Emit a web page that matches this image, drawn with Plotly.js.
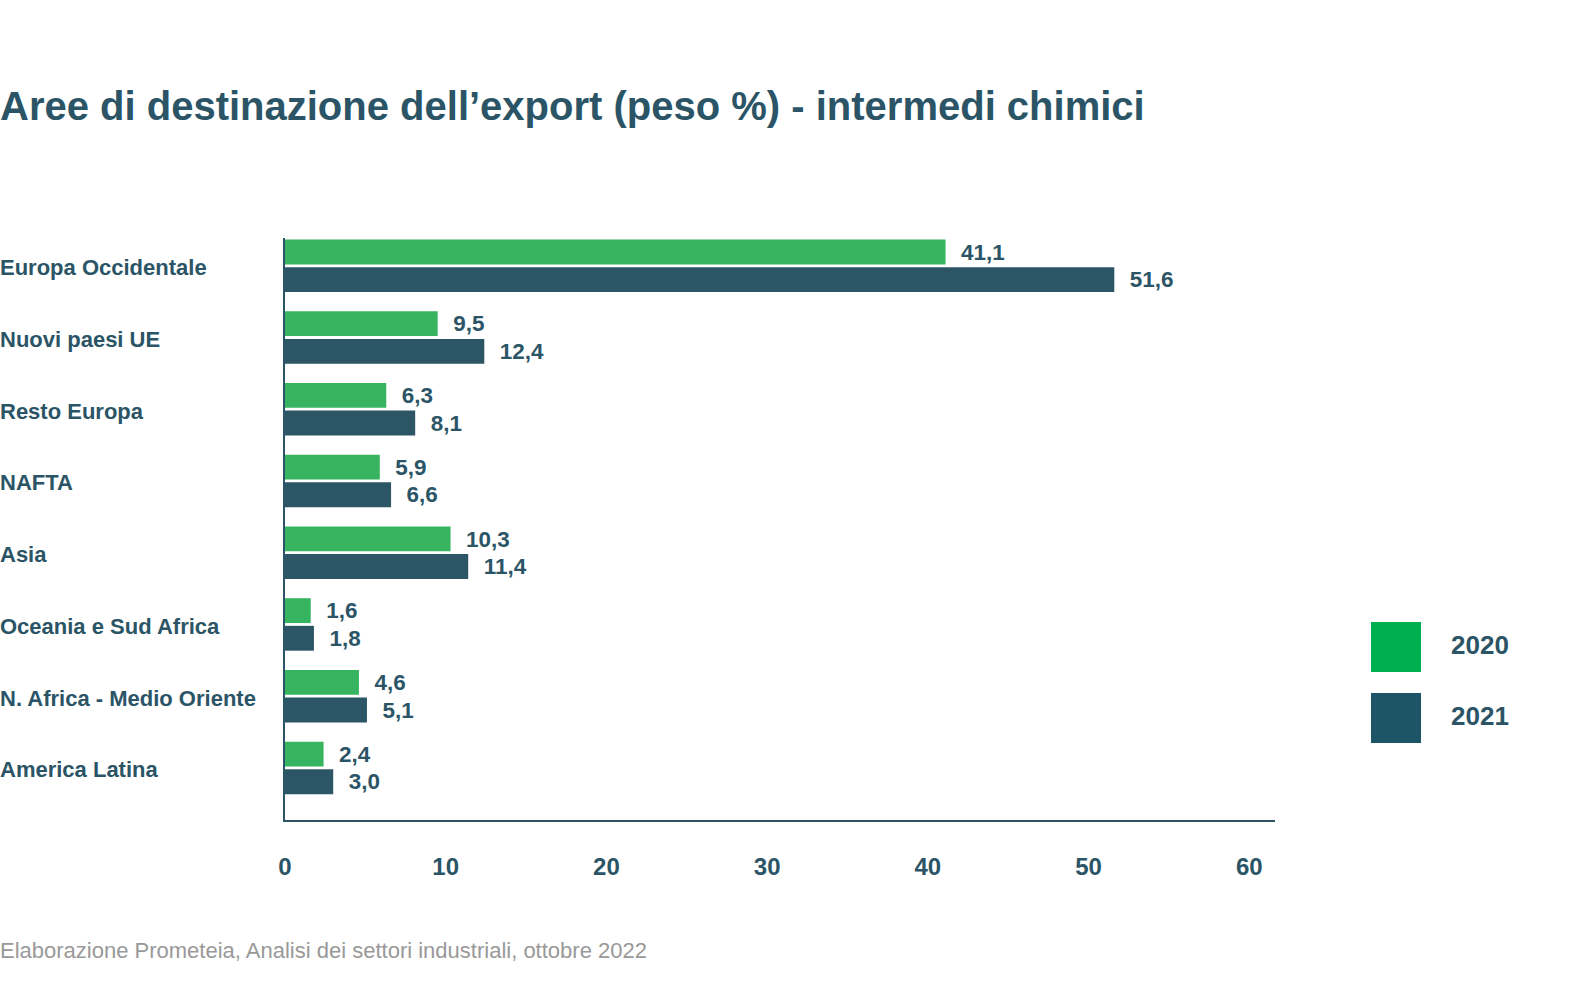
<!DOCTYPE html>
<html>
<head>
<meta charset="utf-8">
<script src="https://cdn.plot.ly/plotly-3.0.1.min.js"></script>
<style>html,body{margin:0;padding:0;background:#fff;}#chart{width:1596px;height:990px;}</style>
</head>
<body>
<div id="chart"></div>
<script>
const categories = ["Europa Occidentale","Nuovi paesi UE","Resto Europa","NAFTA","Asia","Oceania e Sud Africa","N. Africa - Medio Oriente","America Latina"];
const values2020 = [41.1, 9.5, 6.3, 5.9, 10.3, 1.6, 4.6, 2.4];
const values2021 = [51.6, 12.4, 8.1, 6.6, 11.4, 1.8, 5.1, 3.0];
const seriesNames = ["2020","2021"];
const xTicks = [0,10,20,30,40,50,60];

const W = 1596, H = 990;
const L = 285, R = 1275, T = 238, B = 820;
const pw = R - L, ph = B - T;
const px = x => (x - L) / pw;
const py = y => (B - y) / ph;

const textColor = "#2b5566";
const barGreen = "#36b460";
const barDark = "#2c5566";
const legGreen = "#00b050";
const legDark = "#1d5466";
const FONT = "Liberation Sans, Arial, sans-serif";

const common = {
  type: "bar", orientation: "h", y: categories,
  textposition: "outside", cliponaxis: false,
  texttemplate: "\u00a0\u00a0%{x:.1f}",
  textfont: {family: FONT, size: 23.5, color: textColor, weight: "bold"},
  hoverinfo: "skip", showlegend: false
};
const traces = [
  Object.assign({}, common, {x: values2020, name: seriesNames[0], marker: {color: barGreen}}),
  Object.assign({}, common, {x: values2021, name: seriesNames[1], marker: {color: barDark}})
];

const annotations = categories.map(c => ({
  xref: "paper", yref: "y", x: px(-2), y: c, xanchor: "left", yanchor: "middle", yshift: -2,
  text: c, showarrow: false, font: {family: FONT, size: 22, color: textColor, weight: "bold"}
}));
annotations.push({
  xref: "paper", yref: "paper", x: px(-2), y: py(950), xanchor: "left", yanchor: "middle",
  text: "Elaborazione Prometeia, Analisi dei settori industriali, ottobre 2022",
  showarrow: false, font: {family: FONT, size: 22, color: "#999999"}
});
const legendItems = [
  {name: seriesNames[0], color: legGreen, top: 622},
  {name: seriesNames[1], color: legDark, top: 693}
];
const shapes = [];
legendItems.forEach(it => {
  shapes.push({type: "rect", xref: "paper", yref: "paper", x0: px(1371), x1: px(1421), y0: py(it.top), y1: py(it.top + 50), fillcolor: it.color, line: {width: 0}});
  annotations.push({xref: "paper", yref: "paper", x: px(1449), y: py(it.top + 23), xanchor: "left", yanchor: "middle",
    text: it.name, showarrow: false, font: {family: FONT, size: 26, color: textColor, weight: "bold"}});
});

const layout = {
  width: W, height: H,
  margin: {l: L, r: W - R, t: T, b: H - B, pad: 0},
  paper_bgcolor: "#fff", plot_bgcolor: "#fff",
  separators: ",.",
  barmode: "group", bargap: 0.23, bargroupgap: 0.1,
  title: {text: "Aree di destinazione dell\u2019export (peso %) - intermedi chimici",
    xref: "container", yref: "container", x: 0, xanchor: "left", y: 1 - 106 / H, yanchor: "middle",
    font: {family: FONT, size: 40, color: textColor, weight: "bold"}},
  xaxis: {range: [0, 61.6], tickvals: xTicks, ticktext: xTicks.map(String), showgrid: false, zeroline: false,
    showline: true, linecolor: textColor, linewidth: 2, ticks: "", ticklabelstandoff: 24,
    tickfont: {family: FONT, size: 24, color: textColor, weight: "bold"}, fixedrange: true},
  yaxis: {type: "category", range: [7.726, -0.387], showticklabels: false, showgrid: false, zeroline: false,
    showline: true, linecolor: textColor, linewidth: 2, ticks: "", fixedrange: true},
  annotations: annotations, shapes: shapes,
  font: {family: FONT}
};
Plotly.newPlot("chart", traces, layout, {displayModeBar: false, staticPlot: true});
</script>
</body>
</html>
